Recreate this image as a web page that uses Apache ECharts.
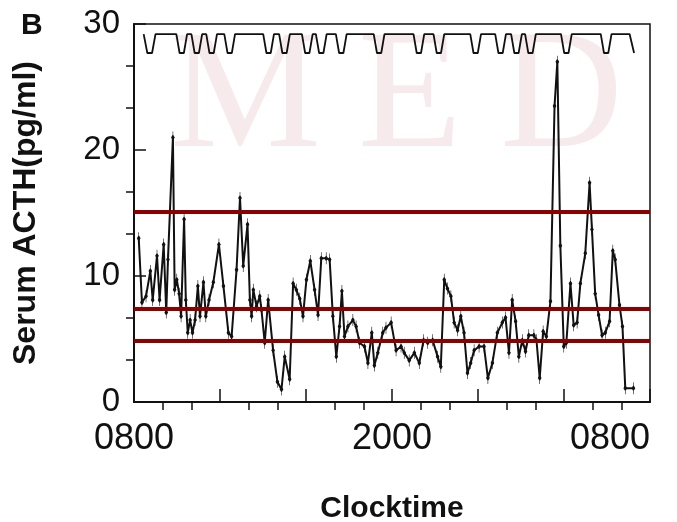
<!DOCTYPE html>
<html>
<head>
<meta charset="utf-8">
<script src="https://cdn.jsdelivr.net/npm/echarts@6/dist/echarts.min.js"></script>
<style>
  html, body { margin: 0; padding: 0; background: #fff; }
  #acthChart { width: 677px; height: 522px; }
</style>
</head>
<body>
<div id="acthChart"></div>
<script>
// hours after 0800, serum ACTH (pg/ml)
var acthHours = [
  0.22,0.37,0.56,0.76,0.87,1.07,1.19,1.38,1.50,1.58,
  1.81,1.89,1.99,2.10,2.19,2.33,2.41,2.50,2.61,2.72,
  2.84,2.97,3.07,3.23,3.34,3.49,3.69,3.95,4.16,4.39,
  4.54,4.77,4.93,5.08,5.28,5.39,5.47,5.55,5.70,5.85,
  5.93,6.08,6.24,6.47,6.67,6.86,7.01,7.24,7.40,7.55,
  7.71,7.86,8.02,8.20,8.40,8.56,8.71,8.94,9.10,9.25,
  9.41,9.56,9.67,9.79,9.95,10.18,10.33,10.49,10.72,10.88,
  11.06,11.18,11.34,11.57,11.72,11.96,12.19,12.42,12.57,12.80,
  13.04,13.27,13.47,13.66,13.89,14.12,14.27,14.43,14.58,14.74,
  14.89,15.05,15.20,15.35,15.51,15.66,15.82,16.05,16.28,16.46,
  16.67,16.90,17.13,17.28,17.44,17.59,17.75,17.90,18.06,18.21,
  18.36,18.60,18.72,18.87,19.03,19.18,19.37,19.56,19.69,19.83,
  19.99,20.11,20.30,20.45,20.61,20.76,20.99,21.19,21.30,21.45,
  21.61,21.77,21.92,22.12,22.27,22.38,22.58,22.72,22.85,23.23
];
var acthLevels = [
  13.0,7.9,8.4,10.4,8.1,11.6,8.1,12.5,7.1,11.3,
  21.0,8.9,9.7,8.6,6.8,14.5,8.1,5.5,6.5,5.5,
  6.5,9.2,6.8,9.5,6.8,8.1,9.5,12.5,9.2,5.5,
  5.2,10.5,16.2,10.8,14.1,8.1,6.8,8.9,7.6,8.4,
  7.3,4.7,8.1,4.1,1.6,1.0,3.6,1.8,9.4,8.9,
  8.2,6.8,9.7,11.2,8.9,6.9,11.4,11.4,11.3,6.8,
  3.6,6.0,8.8,5.2,6.0,6.5,6.0,4.7,4.4,3.1,
  5.5,2.9,3.9,5.5,5.9,6.3,4.1,4.4,3.9,3.3,
  3.9,3.1,4.9,4.7,4.9,3.6,2.8,9.7,9.0,8.4,
  6.3,5.7,6.8,5.5,2.3,3.1,4.1,4.4,4.4,1.9,
  3.1,5.5,6.3,6.7,3.9,8.1,6.4,3.6,4.9,4.0,
  5.3,5.3,4.9,1.9,5.6,5.2,8.0,23.5,27.0,12.4,
  4.4,4.7,9.4,6.1,6.3,9.4,11.8,17.4,13.7,8.6,
  6.9,5.3,5.5,6.4,12.0,11.3,7.7,6.0,1.1,1.1
];

// the trace across the top of the panel
var traceHours = [
  0.45,0.62,0.84,1.00, 1.97,2.12,2.32,2.47, 2.67,2.82,3.02,3.17,
  3.36,3.51,3.71,3.86, 4.20,4.35,4.55,4.70, 6.01,6.16,6.36,6.51,
  6.75,6.90,7.10,7.25, 7.81,7.96,8.16,8.31, 8.46,8.61,8.81,8.96,
  9.39,9.54,9.74,9.89, 11.15,11.30,11.50,11.65, 13.00,13.15,13.35,13.50,
  13.93,14.08,14.28,14.43, 15.64,15.79,15.99,16.14, 16.80,16.95,17.15,17.30,
  17.54,17.69,17.89,18.04, 18.19,18.34,18.54,18.69, 19.86,20.01,20.21,20.36,
  21.71,21.86,22.06,22.21, 23.05,23.26
];
var traceLevels = [
  29.2,27.7,27.7,29.2, 29.2,27.7,27.7,29.2, 29.2,27.7,27.7,29.2,
  29.2,27.7,27.7,29.2, 29.2,27.7,27.7,29.2, 29.2,27.7,27.7,29.2,
  29.2,27.7,27.7,29.2, 29.2,27.7,27.7,29.2, 29.2,27.7,27.7,29.2,
  29.2,27.7,27.7,29.2, 29.2,27.7,27.7,29.2, 29.2,27.7,27.7,29.2,
  29.2,27.7,27.7,29.2, 29.2,27.7,27.7,29.2, 29.2,27.7,27.7,29.2,
  29.2,27.7,27.7,29.2, 29.2,27.7,27.7,29.2, 29.2,27.7,27.7,29.2,
  29.2,27.7,27.7,29.2, 29.2,27.7
];

var refLevels = [15.1, 7.4, 4.9];

var xLabelHours = [0, 12, 24];
var xLabelText = ['0800', '2000', '0800'];
var xMajorTicks = [0, 4, 8, 12, 16, 20, 24];
var xMinorTicks = [4/3, 8/3, 16/3, 20/3, 28/3, 32/3, 40/3, 44/3, 52/3, 56/3, 64/3, 68/3];
var yLabelValues = [0, 10, 20, 30];
var yMinorTicks = [10/3, 20/3, 40/3, 50/3, 70/3, 80/3];

var font = '"Liberation Sans", Arial, sans-serif';
var ink = '#111';

var acthData = acthHours.map(function (h, i) { return [h, acthLevels[i]]; });
var traceData = traceHours.map(function (h, i) { return [h, traceLevels[i]]; });

// diamond with a short vertical bar through it
var pointSymbol = 'path://M-0.5,-6L0.5,-6L0.5,6L-0.5,6Z M-3.2,0L0,-3.2L3.2,0L0,3.2Z';

var chart = echarts.init(document.getElementById('acthChart'));
chart.setOption({
  backgroundColor: '#fff',
  animation: false,
  grid: {
    left: 134, right: 27, top: 24, bottom: 120, outerBoundsMode: 'none',
    show: true, borderColor: ink, borderWidth: 1.5
  },
  graphic: [
    { type: 'text', left: 170, top: 16, z: -10, silent: true,
      style: { text: 'M', font: '170px "Liberation Serif", serif', fill: '#f6eaec' } },
    { type: 'text', left: 358, top: 16, z: -10, silent: true,
      style: { text: 'E', font: '170px "Liberation Serif", serif', fill: '#f6eaec' } },
    { type: 'text', left: 500, top: 16, z: -10, silent: true,
      style: { text: 'D', font: '170px "Liberation Serif", serif', fill: '#f6eaec' } },
    { type: 'text', left: 21, top: 11,
      style: { text: 'B', font: 'bold 30px ' + font, fill: ink } }
  ],
  xAxis: [
    {
      type: 'value', min: 0, max: 24,
      name: 'Clocktime', nameLocation: 'middle', nameGap: 92,
      nameTextStyle: { fontFamily: font, fontSize: 30, fontWeight: 'bold', color: ink },
      axisLine: { lineStyle: { color: ink, width: 2 } },
      axisTick: { inside: true, length: 13, customValues: xMajorTicks, lineStyle: { color: ink, width: 1.5 } },
      axisLabel: {
        customValues: xLabelHours, margin: 19, alignMaxLabel: 'right',
        fontFamily: font, fontSize: 36, color: ink,
        formatter: function (v) { return xLabelText[xLabelHours.indexOf(v)]; }
      },
      splitLine: { show: false }
    },
    {
      type: 'value', min: 0, max: 24, position: 'bottom', offset: 0,
      axisLine: { show: false },
      axisTick: { length: 8, customValues: xMinorTicks, lineStyle: { color: ink, width: 1.5 } },
      axisLabel: { show: false },
      splitLine: { show: false }
    }
  ],
  yAxis: [
    {
      type: 'value', min: 0, max: 30,
      name: 'Serum ACTH(pg/ml)', nameLocation: 'middle', nameGap: 92, nameRotate: 90,
      nameTextStyle: { fontFamily: font, fontSize: 32, fontWeight: 'bold', color: ink },
      axisLine: { show: true, lineStyle: { color: ink, width: 2 } },
      axisTick: { show: true, inside: true, length: 12, customValues: yLabelValues, lineStyle: { color: ink, width: 1.5 } },
      axisLabel: { customValues: yLabelValues, margin: 14, padding: [6, 0, 0, 0], fontFamily: font, fontSize: 33, color: ink },
      splitLine: { show: false }
    },
    {
      type: 'value', min: 0, max: 30, position: 'left', offset: 0,
      axisLine: { show: false },
      axisTick: { show: true, length: 8, customValues: yMinorTicks, lineStyle: { color: ink, width: 1.5 } },
      axisLabel: { show: false },
      splitLine: { show: false }
    }
  ],
  series: [
    {
      name: 'ACTH', type: 'line', data: acthData,
      symbol: pointSymbol, symbolSize: [7, 12], symbolKeepAspect: true, showAllSymbol: true,
      itemStyle: { color: ink },
      lineStyle: { color: ink, width: 2 },
      markLine: {
        silent: true, symbol: 'none', label: { show: false },
        lineStyle: { color: '#8b0000', width: 4, type: 'solid' },
        data: refLevels.map(function (v) { return { yAxis: v }; })
      },
      z: 3
    },
    {
      name: 'trace', type: 'line', data: traceData, showSymbol: false,
      lineStyle: { color: ink, width: 1.8 }
    }
  ]
});
</script>
</body>
</html>
